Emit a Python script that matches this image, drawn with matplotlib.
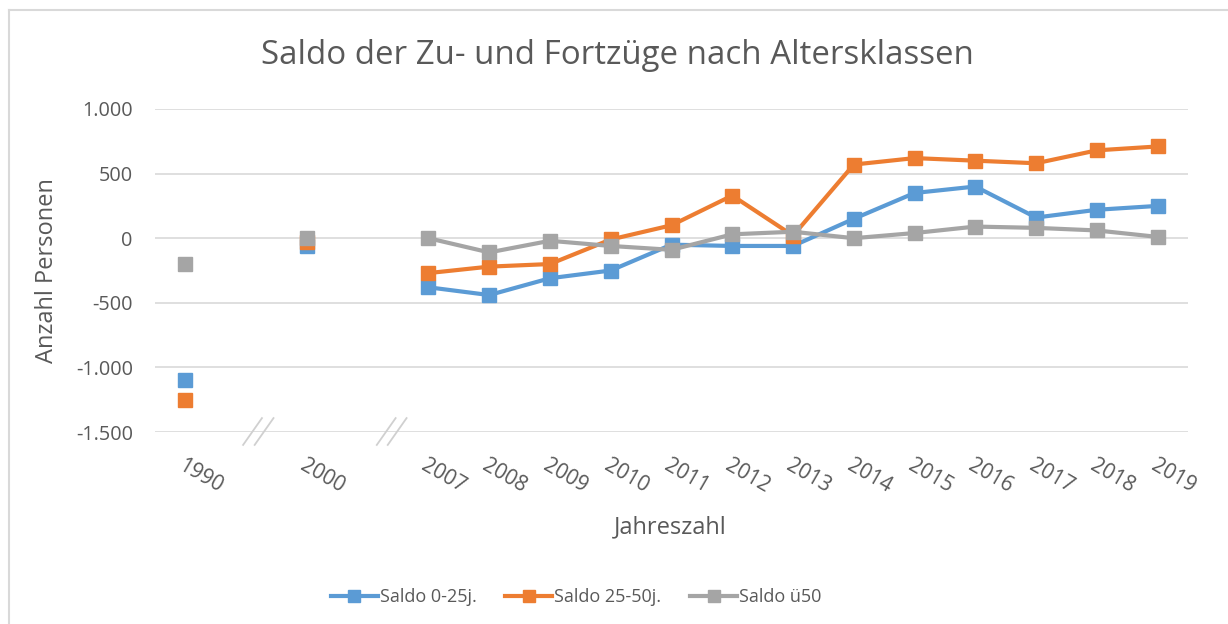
import matplotlib
matplotlib.use("Agg")
import matplotlib.pyplot as plt
import matplotlib.ticker as mticker
import matplotlib.transforms as mtrans
from matplotlib.lines import Line2D
import numpy as np

categories = ["1990", "", "2000", "", "2007", "2008", "2009", "2010", "2011",
              "2012", "2013", "2014", "2015", "2016", "2017", "2018", "2019"]
saldo_0_25 = [-1100, None, -60, None, -380, -440, -310, -250, -50,
              -60, -60, 150, 350, 400, 160, 220, 250]
saldo_25_50 = [-1250, None, -30, None, -270, -220, -200, -10, 100,
               330, 20, 570, 620, 600, 580, 680, 710]
saldo_ue50 = [-200, None, 0, None, 0, -110, -20, -60, -90,
              30, 50, 0, 40, 90, 80, 60, 10]
series_names = ["Saldo 0-25j.", "Saldo 25-50j.", "Saldo ü50"]
colors = ["#5B9BD5", "#ED7D31", "#A5A5A5"]

FONT = ["Open Sans", "DejaVu Sans"]
plt.rcParams['font.family'] = FONT
TXT = "#595959"

W, H = 1228, 624
fig = plt.figure(figsize=(W / 100, H / 100), dpi=100)
ax = fig.add_axes([155 / W, 1 - 432 / H, (1188 - 155) / W, (432 - 109) / H])

x = np.arange(len(categories))
for vals, name, c in zip([saldo_0_25, saldo_25_50, saldo_ue50], series_names, colors):
    y = np.array([np.nan if v is None else v for v in vals], dtype=float)
    ax.plot(x, y, color=c, lw=3.0, marker="s", markersize=9.5,
            markeredgecolor=c, label=name, solid_joinstyle="round", zorder=3)

ax.set_xlim(-0.5, len(categories) - 0.5)
ax.set_ylim(-1500, 1000)
ax.set_yticks([-1500, -1000, -500, 0, 500, 1000])
ax.yaxis.set_major_formatter(mticker.FuncFormatter(lambda v, p: f"{int(v):,}".replace(",", ".")))
ax.grid(axis="y", color="#d9d9d9", lw=1.2, zorder=0)
for s in ax.spines.values():
    s.set_visible(False)
ax.tick_params(axis="both", length=0, colors=TXT)
ax.tick_params(axis="y", pad=16, labelsize=14.3)
ax.set_xticks(x)
ax.set_xticklabels(categories, rotation=-30, ha="left", va="top", rotation_mode="anchor")
for lbl in ax.get_xticklabels():
    lbl.set_color(TXT)
ax.tick_params(axis="x", pad=17, labelsize=15)
offset = mtrans.ScaledTranslation(0 / 100, 0, fig.dpi_scale_trans)
for lbl in ax.get_xticklabels():
    lbl.set_transform(lbl.get_transform() + offset)

# axis break marks
bt = mtrans.blended_transform_factory(ax.transData, ax.transAxes)
for x0 in (0.95, 1.14, 3.15, 3.33):
    ax.add_line(Line2D([x0, x0 + 0.31], [-0.04, 0.043], transform=bt, color="#d0d0d0",
                       lw=1.3, clip_on=False, zorder=4))

fig.text(617 / W, 1 - 55 / H, "Saldo der Zu- und Fortzüge nach Altersklassen",
         ha="center", va="center", fontsize=23.8, color=TXT)
fig.text(47 / W, 1 - 271 / H, "Anzahl Personen", rotation=90, ha="center", va="center",
         fontsize=17, color=TXT)
fig.text(670 / W, 1 - 527 / H, "Jahreszahl", ha="center", va="center",
         fontsize=17, color=TXT)

handles, labels = ax.get_legend_handles_labels()
leg = fig.legend(handles, labels, loc="center", bbox_to_anchor=(576 / W, 1 - 597 / H),
                 ncol=3, frameon=False, fontsize=13, handlelength=2.6,
                 columnspacing=1.6, handletextpad=0.1, markerscale=0.85)
for t in leg.get_texts():
    t.set_color(TXT)

# outer frame
fig.add_artist(Line2D([8.5 / W, 8.5 / W], [0, 1 - 10 / H], transform=fig.transFigure,
                      color="#d9d9d9", lw=1.5))
fig.add_artist(Line2D([8.5 / W, 1], [1 - 10 / H, 1 - 10 / H], transform=fig.transFigure,
                      color="#d9d9d9", lw=1.5))

fig.savefig("out.png", dpi=100, facecolor="white")
